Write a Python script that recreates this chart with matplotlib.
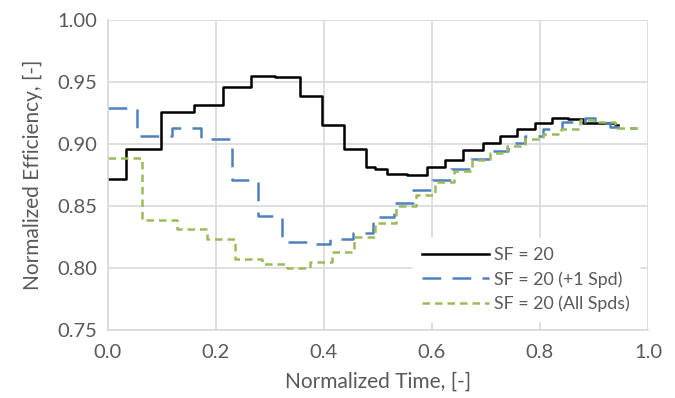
import numpy as np
import matplotlib
matplotlib.use("Agg")
import matplotlib.pyplot as plt

plt.rcParams['font.family'] = ['Lato', 'DejaVu Sans']

# step start times (last value = end of the final step) and step levels
t_base = [0.0, 0.033, 0.098, 0.159, 0.213, 0.265, 0.309, 0.356, 0.396, 0.437,
          0.478, 0.494, 0.516, 0.553, 0.590, 0.624, 0.657, 0.694, 0.726, 0.757,
          0.791, 0.822, 0.852, 0.880, 0.939, 0.945]
eff_base = [0.872, 0.896, 0.926, 0.931, 0.946, 0.955, 0.954, 0.939, 0.915, 0.896,
            0.881, 0.880, 0.876, 0.875, 0.881, 0.887, 0.895, 0.901, 0.906, 0.912,
            0.917, 0.921, 0.920, 0.917, 0.915]

t_one = [0.0, 0.053, 0.118, 0.173, 0.229, 0.278, 0.323, 0.370, 0.411, 0.453,
         0.491, 0.530, 0.565, 0.600, 0.636, 0.672, 0.706, 0.741, 0.772, 0.806,
         0.840, 0.883, 0.902, 0.930, 0.944, 0.980]
eff_one = [0.929, 0.906, 0.913, 0.904, 0.871, 0.842, 0.821, 0.819, 0.823, 0.828,
           0.841, 0.852, 0.863, 0.871, 0.880, 0.888, 0.894, 0.901, 0.906, 0.912,
           0.918, 0.921, 0.917, 0.914, 0.913]

t_all = [0.0, 0.0635, 0.127, 0.183, 0.235, 0.285, 0.331, 0.374, 0.414, 0.456,
         0.494, 0.533, 0.570, 0.606, 0.641, 0.674, 0.707, 0.739, 0.772, 0.806,
         0.839, 0.874, 0.907, 0.939, 0.980]
eff_all = [0.889, 0.839, 0.831, 0.823, 0.807, 0.803, 0.800, 0.805, 0.813, 0.825,
           0.836, 0.850, 0.859, 0.869, 0.878, 0.887, 0.893, 0.898, 0.904, 0.908,
           0.912, 0.919, 0.918, 0.913]

labels = ["SF = 20", "SF = 20 (+1 Spd)", "SF = 20 (All Spds)"]
x_ticks = [0.0, 0.2, 0.4, 0.6, 0.8, 1.0]
y_ticks = [0.75, 0.80, 0.85, 0.90, 0.95, 1.00]

grey = "#595959"
grid = "#D9D9D9"

fig = plt.figure(figsize=(6.75, 3.98), dpi=100)
ax = fig.add_axes([0.16, 0.171, 0.80, 0.779])


def step_xy(t, e):
    # repeat the last level so the final step reaches its end time
    return np.array(t), np.append(e, e[-1])


x, y = step_xy(t_base, eff_base)
ax.step(x, y, where='post', color='black', lw=1.8, label=labels[0])
x, y = step_xy(t_one, eff_one)
ax.step(x, y, where='post', color='#4F81BD', lw=1.8, dashes=(7.5, 4.5), label=labels[1])
x, y = step_xy(t_all, eff_all)
ax.step(x, y, where='post', color='#9BBB59', lw=1.8, dashes=(3, 2), label=labels[2])

ax.set_xlim(0, 1.0)
ax.set_ylim(0.75, 1.00)
ax.set_xticks(x_ticks)
ax.set_yticks(y_ticks)
ax.xaxis.set_major_formatter(matplotlib.ticker.FormatStrFormatter('%.1f'))
ax.yaxis.set_major_formatter(matplotlib.ticker.FormatStrFormatter('%.2f'))
ax.grid(True, color=grid, lw=1.2)
ax.set_axisbelow(True)
ax.tick_params(length=0, labelsize=14.5, colors=grey)
ax.tick_params(axis='x', pad=10)
ax.tick_params(axis='y', pad=8)
for s in ['top', 'right']:
    ax.spines[s].set_visible(False)
for s in ['left', 'bottom']:
    ax.spines[s].set_color(grid)
    ax.spines[s].set_linewidth(1.2)

ax.set_xlabel("Normalized Time, [-]", fontsize=15, color=grey, labelpad=8)
ax.set_ylabel("Normalized Efficiency, [-]", fontsize=15, color=grey, labelpad=10)

leg = ax.legend(loc='lower right', bbox_to_anchor=(1.0, 0.0), fontsize=12.8,
                frameon=True, framealpha=1.0, edgecolor='white', fancybox=False,
                handlelength=3.8, handletextpad=0.3, borderpad=0.5,
                labelspacing=0.45)
for t in leg.get_texts():
    t.set_color(grey)

fig.savefig("out.png", dpi=100, facecolor='white')
